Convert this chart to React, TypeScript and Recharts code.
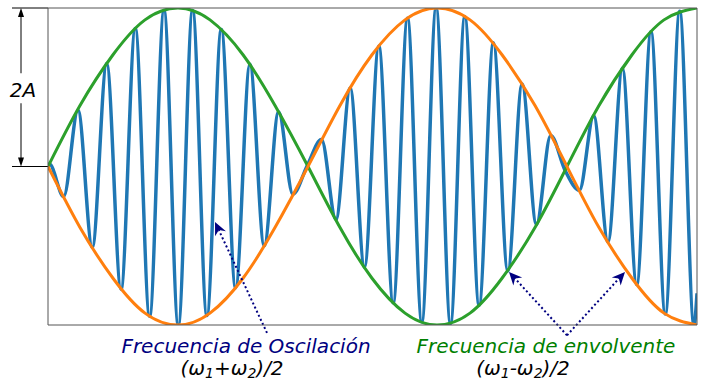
import React from "react";
import { LineChart, Line, XAxis, YAxis, ReferenceLine } from "recharts";

// Envelope samples (time axis in px-like units, amplitude in units of A)
const envX = [0, 32, 65, 97, 130, 162, 195, 227, 260, 292, 324, 357, 389, 422, 454, 487, 519, 551, 584, 616, 649];
const greenEnv = [0, 0.77, 1.41, 1.85, 2, 1.85, 1.41, 0.77, 0, -0.77, -1.41, -1.85, -2, -1.85, -1.41, -0.77, 0, 0.77, 1.41, 1.85, 2];
const orangeEnv = [0, -0.77, -1.41, -1.85, -2, -1.85, -1.41, -0.77, 0, 0.77, 1.41, 1.85, 2, 1.85, 1.41, 0.77, 0, -0.77, -1.41, -1.85, -2];

// Blue carrier: start, every peak / trough, end
const blueX = [
    0, 1.4, 15.7, 30, 44.3, 58.7, 73.0, 87.3, 101.6, 116.0, 130.3, 144.6, 158.9, 173.3, 187.6, 201.9,
    216.2, 230.6, 244.9, 259.2, 273.5, 287.9, 302.2, 316.5, 330.8, 345.2, 359.5, 373.8, 388.1, 402.5,
    416.8, 431.1, 445.4, 459.8, 474.1, 488.4, 502.7, 517.1, 531.4, 545.7, 560.0, 574.4, 588.7, 603.0,
    617.3, 631.7, 646.0, 649,
];
const blueY = [
    0, 0.03, -0.38, 0.71, -1.02, 1.3, -1.55, 1.74, -1.89, 1.97, -2.0, 1.97, -1.88, 1.73, -1.53, 1.29,
    -1.0, 0.69, -0.35, 0.01, 0.34, -0.67, 0.99, -1.27, 1.52, -1.72, 1.87, -1.96, 2.0, -1.98,
    1.89, -1.75, 1.56, -1.32, 1.04, -0.73, 0.39, -0.05, -0.3, 0.64, -0.95, 1.24, -1.49, 1.7,
    -1.86, 1.96, -2.0, -1.6,
];

const X_TICKS = [35, 118, 200, 283, 366, 449, 531, 614];
const Y_TICKS = [-2, -1.5, -1, -0.5, 0, 0.5, 1, 1.5, 2];

const greenData = envX.map((x, i) => ({ x, y: greenEnv[i] }));
const orangeData = envX.map((x, i) => ({ x, y: orangeEnv[i] }));
const blueData = blueX.map((x, i) => ({ x, y: blueY[i] }));

const FONT = "'DejaVu Sans', sans-serif";
const AXIS = "#555";

// double headed arrow with "2A" label in a gap
function DimArrow(props: any) {
    const { x1, y1, y2 } = props;
    const mid = (y1 + y2) / 2;
    return (
        <g>
            <line x1={x1} y1={y1 + 6} x2={x1} y2={mid - 14} stroke="#000" strokeWidth={1} />
            <line x1={x1} y1={mid + 16} x2={x1} y2={y2 - 6} stroke="#000" strokeWidth={1} />
            <polygon points={`${x1},${y1} ${x1 - 3},${y1 + 9} ${x1 + 3},${y1 + 9}`} fill="#000" />
            <polygon points={`${x1},${y2} ${x1 - 3},${y2 - 9} ${x1 + 3},${y2 - 9}`} fill="#000" />
            <text x={x1 + 2} y={mid + 10} textAnchor="middle" fontFamily={FONT} fontStyle="italic" fontSize={20} fill="#000">
                2A
            </text>
        </g>
    );
}

// dotted arrow, tail -> tip
function DotArrow(props: any) {
    const { x1, y1, x2, y2 } = props;
    const dx = x2 - x1;
    const dy = y2 - y1;
    const len = Math.sqrt(dx * dx + dy * dy);
    const ux = dx / len;
    const uy = dy / len;
    const px = -uy;
    const py = ux;
    const hl = 13;
    const hw = 6;
    const bx = x2 - ux * hl;
    const by = y2 - uy * hl;
    const nx = x2 - ux * (hl - 4);
    const ny = y2 - uy * (hl - 4);
    return (
        <g>
            <line x1={x1} y1={y1} x2={nx} y2={ny} stroke="#000080" strokeWidth={2} strokeDasharray="2 2.5" />
            <polygon
                points={`${x2},${y2} ${bx + px * hw},${by + py * hw} ${nx},${ny} ${bx - px * hw},${by - py * hw}`}
                fill="#000080"
            />
        </g>
    );
}

export default function App() {
    return (
        <div style={{ position: "absolute", left: 0, top: 0, width: 704, height: 381, background: "#fff" }}>
            <LineChart width={704} height={381} margin={{ top: 8, right: 7, bottom: 55, left: 47 }}>
                <XAxis
                    dataKey="x"
                    type="number"
                    domain={[0, 649]}
                    allowDataOverflow
                    ticks={X_TICKS}
                    interval={0}
                    tick={false}
                    tickSize={4}
                    height={1}
                    axisLine={{ stroke: AXIS }}
                    tickLine={{ stroke: AXIS }}
                />
                <YAxis
                    type="number"
                    domain={[-2, 2]}
                    allowDataOverflow
                    ticks={Y_TICKS}
                    interval={0}
                    tick={false}
                    tickSize={4}
                    width={1}
                    axisLine={{ stroke: AXIS }}
                    tickLine={{ stroke: AXIS }}
                />
                <Line data={blueData} dataKey="y" type="monotone" stroke="#1f77b4" strokeWidth={3.5} dot={false} isAnimationActive={false} />
                <Line data={greenData} dataKey="y" type="natural" stroke="#2ca02c" strokeWidth={3} dot={false} isAnimationActive={false} />
                <Line data={orangeData} dataKey="y" type="natural" stroke="#ff7f0e" strokeWidth={3} dot={false} isAnimationActive={false} />
                <ReferenceLine y={2} stroke={AXIS} strokeWidth={1} />
                <ReferenceLine x={649} stroke={AXIS} strokeWidth={1} />
                <ReferenceLine segment={[{ x: -36, y: 2 }, { x: 0, y: 2 }]} ifOverflow="visible" stroke="#000" strokeWidth={1} />
                <ReferenceLine segment={[{ x: -36, y: 0 }, { x: 0, y: 0 }]} ifOverflow="visible" stroke="#000" strokeWidth={1} />
                <ReferenceLine segment={[{ x: -27, y: 2 }, { x: -27, y: 0 }]} ifOverflow="visible" shape={DimArrow} />
                <ReferenceLine segment={[{ x: 219, y: -2.1 }, { x: 167, y: -0.7 }]} ifOverflow="visible" shape={DotArrow} />
                <ReferenceLine segment={[{ x: 519, y: -2.13 }, { x: 461, y: -1.33 }]} ifOverflow="visible" shape={DotArrow} />
                <ReferenceLine segment={[{ x: 519, y: -2.13 }, { x: 577, y: -1.33 }]} ifOverflow="visible" shape={DotArrow} />
            </LineChart>
            <svg width={704} height={381} style={{ position: "absolute", left: 0, top: 0, pointerEvents: "none" }}>
                <g fontFamily={FONT} fontStyle="italic" fontSize={20}>
                    <text x={246} y={352.5} textAnchor="middle" fill="#000080">Frecuencia de Oscilación</text>
                    <text x={232} y={375} textAnchor="middle" fill="#000">
                        (ω<tspan fontSize={14} dy={3}>1</tspan><tspan dy={-3}>+ω</tspan><tspan fontSize={14} dy={3}>2</tspan><tspan dy={-3}>)/2</tspan>
                    </text>
                    <text x={546} y={352.5} textAnchor="middle" fill="#008000">Frecuencia de envolvente</text>
                    <text x={523} y={375} textAnchor="middle" fill="#000">
                        (ω<tspan fontSize={14} dy={3}>1</tspan><tspan dy={-3}>-ω</tspan><tspan fontSize={14} dy={3}>2</tspan><tspan dy={-3}>)/2</tspan>
                    </text>
                </g>
            </svg>
        </div>
    );
}
